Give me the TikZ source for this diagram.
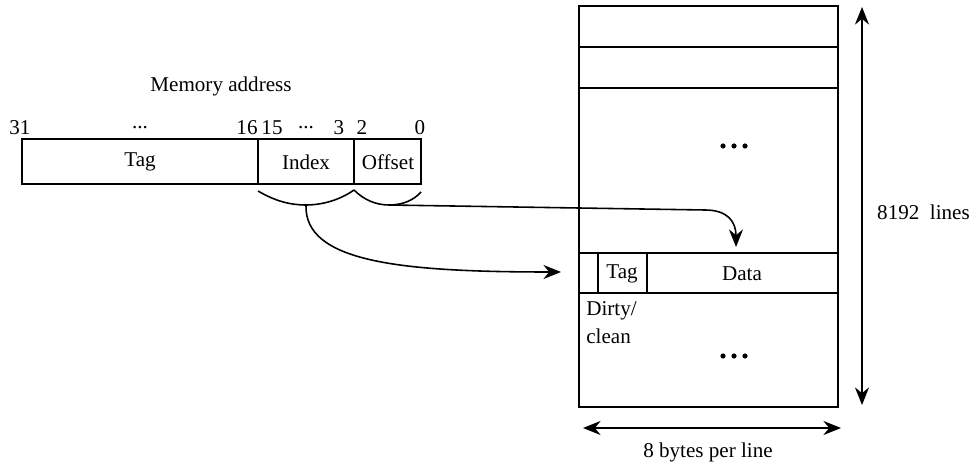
\documentclass[tikz,border=0pt]{standalone}
\usepackage{fontspec}
\setmainfont{Liberation Serif}
\usetikzlibrary{arrows.meta}

\tikzset{
  box/.style={line width=1.1pt},
  link/.style={line width=0.9pt,-{Stealth[length=10pt,width=8pt]}},
  span/.style={line width=0.8pt,{Stealth[length=10pt,width=8pt]}-{Stealth[length=10pt,width=8pt]}},
  brace/.style={line width=0.9pt}
}

\begin{document}
\begin{tikzpicture}[x=0.02cm,y=-0.02cm,font=\fontsize{12}{14}\selectfont]
		\useasboundingbox (0,0) rectangle (973,465);
		%%%%% ADDRESS %%%%%
		\node (memaddr) at (221,86) {Memory address};
		\node (b31) at (20,128) {31};
		\node (bdots1) at (140,128) {...};
		\node (b16) at (247,128) {16};
		\node (b15) at (272,128) {15};
		\node (bdots2) at (306,128) {...};
		\node (b3) at (339,128) {3};
		\node (b2) at (362,128) {2};
		\node (b0) at (420,128) {0};
		
		\draw[box] (22,139) rectangle (421,184);
		\draw[box] (258,139) -- (258,184);
		\draw[box] (354,139) -- (354,184);
		\node (tag) at (140,162) {Tag};
		\node (index) at (306,162) {Index};
		\node (offset) at (388,162) {Offset};
		
		%%%%% BRACES %%%%%
		\coordinate (idxfoot) at (306,205);
		\coordinate (offfoot) at (389,205);
		\draw[brace] (258,191) .. controls (275,201) and (290,205) .. (idxfoot) .. controls (322,205) and (340,200) .. (354,190);
		\draw[brace] (354,190) .. controls (364,200) and (376,205) .. (offfoot) .. controls (403,205) and (414,200) .. (421,192);
		
		%%%%% CACHE %%%%%
		\draw[box] (579,6) rectangle (838,407);
		\draw[box] (579,47) -- (838,47);
		\draw[box] (579,88) -- (838,88);
		\draw[box] (579,253) -- (838,253);
		\draw[box] (579,293) -- (838,293);
		\draw[box] (598,253) -- (598,293);
		\draw[box] (647,253) -- (647,293);
		\node (ctag) at (622,274) {Tag};
		\node (data) at (742,274) {Data};
		\node[align=left,anchor=north west,inner sep=0pt,font=\fontsize{12}{16}\selectfont] (dirty) at (586,301) {Dirty/\\clean};
		\coordinate (cline) at (561,272);
		\coordinate (cbyte) at (736,247);
		\foreach \y in {146,356}
			\foreach \dx in {-11,0,11}
				\fill (734+\dx,\y) circle (2.6);
		
		%%%%% ARROWS %%%%%
		\draw[link] (idxfoot) .. controls (304,262) and (400,272) .. (cline);
		\draw[link] (offfoot) -- (705,210) .. controls (728,210) and (736,222) .. (cbyte);
		
		\coordinate (vtop) at (862,7);
		\coordinate (vbot) at (862,405);
		\draw[span] (vtop) -- (vbot);
		\node[anchor=west] (nlines) at (871,212) {8192\ \ lines};
		
		\coordinate (hleft) at (583,428);
		\coordinate (hright) at (841,428);
		\draw[span] (hleft) -- (hright);
		\node (nbytes) at (708,452) {8 bytes per line};
		%%%%% END %%%%%
\end{tikzpicture}
\end{document}
